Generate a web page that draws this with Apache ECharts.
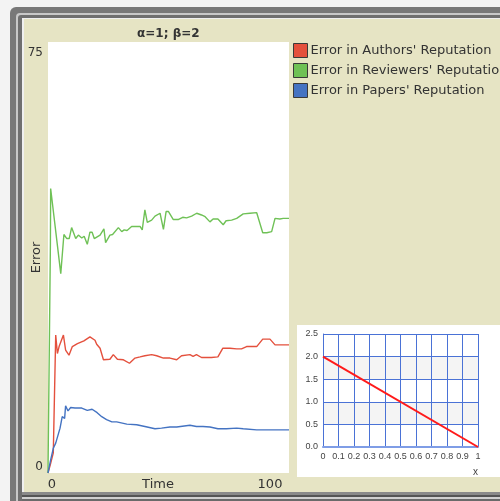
<!DOCTYPE html>
<html>
<head>
<meta charset="utf-8">
<script src="https://cdn.jsdelivr.net/npm/echarts@6/dist/echarts.min.js"></script>
<style>
html,body{margin:0;padding:0;background:#f3f3f3;}
#c{width:500px;height:501px;}
</style>
</head>
<body>
<div id="c"></div>
<script>
// ---- Data ----
var chartTitle = 'α=1; β=2';
var seriesNames = ["Error in Authors' Reputation", "Error in Reviewers' Reputation", "Error in Papers' Reputation"];

var authorsTime  = [0,1,2.2,3.2,3.9,4.6,5.3,6.4,7.3,8.7,10.1,12.2,14.9,17.4,19.5,20.2,21.6,23,25.7,27.1,28.8,31.3,33.8,36.1,38.2,40.2,43,45.1,47.9,50.6,53.4,55.4,58.9,60.2,61.6,63.7,67.8,70.5,72.5,75.5,78.3,80.3,82.4,86.6,89.1,92.1,94.2,100];
var authorsError = [0,1.5,3.5,24,20.8,22,22.3,24,21.4,20.5,22,22.5,23,23.7,23.1,22.4,21.7,19.7,19.8,20.6,19.8,19.7,19.1,20,20.2,20.4,20.6,20.4,20,20,19.7,20.4,20.6,20.3,20.6,20.1,20.1,20.2,21.7,21.7,21.6,21.6,22,22,23.3,23.3,22.3,22.3];

var reviewersTime  = [0,1,1.1,5.3,5.8,6.6,7.8,8.8,9.8,11.5,12.6,14,15,16.3,17.4,18.3,19.2,21.6,23.2,23.9,25.7,26.8,29.2,30.6,31.6,32.8,34.7,38.2,39.1,40.2,41.2,43,44.4,46.5,47.9,49,50,52,54,55.9,57.5,59.6,61.7,63.7,65.2,67.2,68.5,70.5,72.7,73.9,76.2,78.3,81,83.8,86.6,89.1,90.8,92.8,94.2,96.2,97.6,100];
var reviewersError = [0,40,49.5,34.7,34.7,41.5,40.8,40.8,42.7,40.8,41.4,40.9,41.2,39.8,41.9,41.9,40.8,41.4,42.5,40.1,41.4,41.5,42.7,42.0,42.3,42.2,42.9,42.9,42.3,45.8,43.6,44,44.7,45.2,42.4,45.5,45.5,44.1,44.1,44.5,44.4,44.7,45.2,44.9,44.6,43.7,44.2,44.2,43.2,43.9,44,44.3,45.1,45.2,45.3,41.8,41.8,42,44.3,44.2,44.3,44.3];

var papersTime  = [0,0.4,1.1,2.2,3.2,4,5,5.9,6.9,7.3,8.3,9.4,11.2,14,16.3,18.3,20.4,22.3,24.3,26.5,28.5,32.7,36.8,40.2,44.4,47.1,50.6,53.4,58.9,61.6,64.3,67.2,70.5,74,78.3,81,86.6,92.1,100];
var papersError = [0,0.2,2.3,4.3,5.2,5.3,7.8,9.8,9.5,11.7,10.8,11.4,11.3,11.3,10.9,11.1,10.5,9.8,9.3,8.9,8.9,8.5,8.4,8.1,7.7,7.8,8,8,8.3,8.1,8.1,8,7.7,7.7,7.8,7.7,7.5,7.5,7.5];

var mainXTicks = [0, 100];
var mainYTicks = [0, 75];
var mainXName = 'Time';
var mainYName = 'Error';

var insetX = [0, 1];
var insetY = [2, 0];
var insetXTicks = [0,0.1,0.2,0.3,0.4,0.5,0.6,0.7,0.8,0.9,1];
var insetYTicks = [0,0.5,1,1.5,2,2.5];
var insetXName = 'x';

// ---- Build ----
function zip(a,b){ return a.map(function(v,i){ return [v,b[i]]; }); }
var FONT = 'DejaVu Sans';
var colors = ['#e4503d', '#6fc156', '#4473c2'];
var chart = echarts.init(document.getElementById('c'), null, {renderer:'canvas'});

var frame = [
  {type:'rect', shape:{x:10,y:7,width:520,height:520,r:6}, style:{fill:'#787878'}, z:-100},
  {type:'rect', shape:{x:16,y:13,width:520,height:520,r:4}, style:{fill:'#c8c8c8'}, z:-99},
  {type:'rect', shape:{x:18,y:15,width:520,height:520,r:3}, style:{fill:'#6f6f6f'}, z:-98},
  {type:'rect', shape:{x:22,y:18,width:520,height:520}, style:{fill:'#efefef'}, z:-97},
  {type:'rect', shape:{x:24,y:19,width:520,height:473}, style:{fill:'#e6e4c4'}, z:-96},
  {type:'rect', shape:{x:22,y:492,width:520,height:3}, style:{fill:'#8a8a8a'}, z:-95},
  {type:'rect', shape:{x:22,y:495,width:520,height:2}, style:{fill:'#555555'}, z:-95},
  {type:'rect', shape:{x:22,y:497,width:520,height:2}, style:{fill:'#d0d0d0'}, z:-95},
  {type:'rect', shape:{x:22,y:499,width:520,height:3}, style:{fill:'#6a6a6a'}, z:-95},
  {type:'rect', shape:{x:297,y:325,width:210,height:152}, style:{fill:'#ffffff'}, z:-90}
];

var option = {
  animation:false,
  backgroundColor:'#f3f3f3',
  graphic: frame,
  title:{text:chartTitle, left:132, top:23, padding:5, textStyle:{fontFamily:FONT, fontSize:12, fontWeight:'bold', color:'#333'}},
  legend:{
    orient:'vertical', left:293, top:43, padding:0, itemWidth:14, itemHeight:14, itemGap:5,
    icon:'rect', data:seriesNames,
    itemStyle:{borderColor:'#3a3a3a', borderWidth:1},
    textStyle:{fontFamily:FONT, fontSize:13, color:'#333', padding:[0,0,0,-2]}
  },
  grid:[
    {left:48, top:42, width:241, height:431, show:true, backgroundColor:'#ffffff', borderWidth:0, outerBoundsMode:'none', containLabel:false},
    {left:323, top:334, width:155, height:113, show:false, borderWidth:0, outerBoundsMode:'none', containLabel:false}
  ],
  xAxis:[
    {gridIndex:0, type:'value', min:mainXTicks[0], max:mainXTicks[1], interval:mainXTicks[1]-mainXTicks[0],
     axisLine:{show:false}, axisTick:{show:false}, splitLine:{show:false},
     name:mainXName, nameLocation:'middle', nameGap:5, nameMoveOverlap:false,
     nameTextStyle:{fontFamily:FONT, fontSize:13, color:'#333', verticalAlign:'top', padding:[0,21,0,0]},
     axisLabel:{margin:5, fontFamily:FONT, fontSize:13, color:'#333',
       formatter:function(v){ return v===mainXTicks[0] ? '{l|'+v+'}' : '{r|'+v+'}'; },
       rich:{l:{padding:[0,0,0,8], fontFamily:FONT, fontSize:13, color:'#333'}, r:{padding:[0,38,0,0], fontFamily:FONT, fontSize:13, color:'#333'}}}
    },
    {gridIndex:1, type:'value', min:insetXTicks[0], max:insetXTicks[insetXTicks.length-1], interval:0.1,
     axisLine:{show:true, lineStyle:{color:'#7f9de6', width:2}}, axisTick:{show:false},
     splitLine:{show:true, lineStyle:{color:'#4a72d6', width:1}},
     name:insetXName, nameLocation:'end', nameGap:0, nameMoveOverlap:false,
     nameTextStyle:{fontFamily:'Liberation Sans', fontSize:10, color:'#444', align:'right', verticalAlign:'top', padding:[20,0,0,0]},
     axisLabel:{margin:5, fontFamily:'Liberation Sans', fontSize:9, color:'#444',
       formatter:function(v){ return String(Math.round(v*10)/10); }}
    }
  ],
  yAxis:[
    {gridIndex:0, type:'value', min:mainYTicks[0], max:mainYTicks[1], interval:mainYTicks[1]-mainYTicks[0],
     axisLine:{show:false}, axisTick:{show:false}, splitLine:{show:false},
     name:mainYName, nameLocation:'middle', nameGap:5, nameMoveOverlap:false,
     nameTextStyle:{fontFamily:FONT, fontSize:13, color:'#333'},
     axisLabel:{margin:5, fontFamily:FONT, fontSize:12, color:'#333',
       formatter:function(v){ return v===mainYTicks[1] ? '{t|'+v+'}' : '{b|'+v+'}'; },
       rich:{t:{padding:[22,0,0,0], fontFamily:FONT, fontSize:12, color:'#333'}, b:{padding:[0,0,12,0], fontFamily:FONT, fontSize:12, color:'#333'}}}
    },
    {gridIndex:1, type:'value', min:insetYTicks[0], max:insetYTicks[insetYTicks.length-1], interval:0.5,
     axisLine:{show:true, lineStyle:{color:'#4a72d6'}}, axisTick:{show:false},
     splitLine:{show:true, lineStyle:{color:'#4a72d6', width:1}},
     splitArea:{show:true, areaStyle:{color:['#ffffff','#f4f4f4']}},
     axisLabel:{margin:5, fontFamily:'Liberation Sans', fontSize:9, color:'#444',
       formatter:function(v){ return v.toFixed(1); }}
    }
  ],
  series:[
    {name:seriesNames[0], type:'line', xAxisIndex:0, yAxisIndex:0, data:zip(authorsTime, authorsError),
     showSymbol:false, color:colors[0], lineStyle:{width:1.4, color:colors[0]}},
    {name:seriesNames[1], type:'line', xAxisIndex:0, yAxisIndex:0, data:zip(reviewersTime, reviewersError),
     showSymbol:false, color:colors[1], lineStyle:{width:1.4, color:colors[1]}},
    {name:seriesNames[2], type:'line', xAxisIndex:0, yAxisIndex:0, data:zip(papersTime, papersError),
     showSymbol:false, color:colors[2], lineStyle:{width:1.4, color:colors[2]}},
    {name:'inset', type:'line', xAxisIndex:1, yAxisIndex:1, data:zip(insetX, insetY),
     showSymbol:false, color:'#ff1a1a', lineStyle:{width:2, color:'#ff1a1a'}, z:5}
  ]
};
chart.setOption(option);
</script>
</body>
</html>
